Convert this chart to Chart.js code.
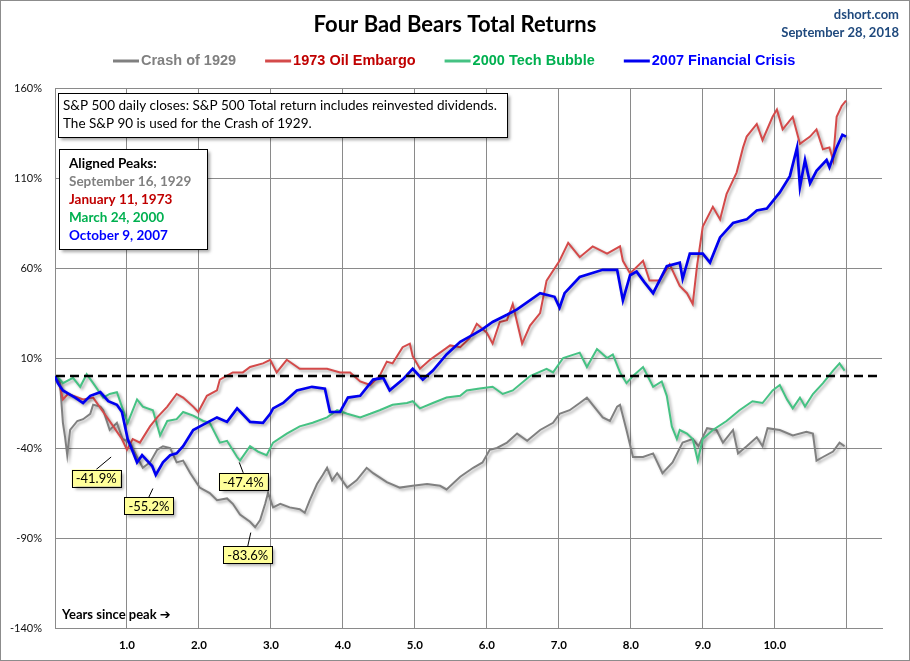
<!DOCTYPE html>
<html>
<head>
<meta charset="utf-8">
<title>Four Bad Bears Total Returns</title>
<script src="https://cdn.jsdelivr.net/npm/chart.js@4.4.1/dist/chart.umd.min.js"></script>
<style>
  html, body { margin: 0; padding: 0; background: #fff; }
  #wrap { width: 910px; height: 661px; }
</style>
</head>
<body>
<div id="wrap"><canvas id="bearsChart" width="910" height="661"></canvas></div>
<script>
// [years since peak, total return %]
const crash1929 = [[0,0],[0.07,-4],[0.11,-26],[0.14,-34],[0.17,-44],[0.21,-30],[0.31,-25],[0.39,-24],[0.49,-21],[0.53,-16],[0.63,-17],[0.67,-19],[0.76,-30],[0.86,-26],[0.94,-35],[1.04,-37],[1.14,-45],[1.22,-51],[1.32,-48],[1.42,-41],[1.5,-39],[1.6,-40],[1.69,-48],[1.78,-47],[1.88,-54],[2.01,-62],[2.15,-65],[2.25,-69],[2.39,-68],[2.47,-71],[2.57,-77],[2.71,-81],[2.78,-84],[2.85,-80],[2.92,-71],[2.96,-65],[3.03,-73],[3.13,-71],[3.26,-73],[3.4,-74],[3.47,-76],[3.54,-69],[3.64,-60],[3.72,-55],[3.78,-51],[3.85,-58],[3.92,-54],[4.06,-62],[4.19,-58],[4.33,-51],[4.42,-54],[4.61,-59],[4.79,-62],[4.97,-61],[5.17,-60],[5.35,-61],[5.44,-63],[5.63,-56],[5.81,-51],[5.94,-48],[6.04,-41],[6.14,-40],[6.28,-37],[6.42,-32],[6.56,-36],[6.74,-30],[6.92,-26],[7.01,-21],[7.15,-19],[7.29,-15],[7.39,-12],[7.47,-16],[7.61,-23],[7.71,-25],[7.81,-17],[7.85,-16],[7.94,-30],[8.03,-45],[8.17,-45],[8.31,-43],[8.44,-54],[8.58,-48],[8.72,-37],[8.86,-35],[8.94,-39],[9.06,-29],[9.19,-30],[9.28,-37],[9.42,-30],[9.49,-43],[9.61,-39],[9.75,-34],[9.83,-39],[9.9,-29],[10.07,-30],[10.25,-33],[10.44,-31],[10.53,-32],[10.58,-47],[10.67,-45],[10.81,-42],[10.9,-37],[10.97,-39]];

const oilEmbargo1973 = [[0,0],[0.07,-6],[0.11,-13],[0.18,-10],[0.25,-11],[0.39,-13],[0.53,-12],[0.67,-20],[0.81,-28],[0.93,-35],[1.0,-41],[1.08,-35],[1.18,-37],[1.32,-28],[1.42,-23],[1.56,-17],[1.69,-10],[1.78,-12],[1.92,-17],[1.99,-20],[2.11,-11],[2.25,-8],[2.29,-2],[2.47,2],[2.61,2],[2.71,5],[2.89,7],[2.99,9],[3.08,2],[3.22,9],[3.4,4],[3.58,4],[3.78,4],[3.96,2],[4.1,2],[4.24,-3],[4.38,-5],[4.51,0],[4.61,8],[4.69,7],[4.83,16],[4.93,18],[4.97,11],[5.07,4],[5.21,9],[5.35,13],[5.49,17],[5.63,16],[5.76,21],[5.86,29],[6.0,24],[6.08,18],[6.18,30],[6.28,31],[6.36,40],[6.49,18],[6.6,28],[6.74,35],[6.83,53],[7.01,64],[7.13,74],[7.29,66],[7.47,72],[7.67,68],[7.85,72],[7.89,64],[7.99,57],[8.17,64],[8.26,53],[8.4,53],[8.54,62],[8.68,50],[8.78,46],[8.86,40],[8.92,61],[9.0,83],[9.14,94],[9.24,87],[9.33,101],[9.47,113],[9.56,127],[9.61,133],[9.75,140],[9.83,131],[9.97,144],[10.03,148],[10.11,137],[10.25,144],[10.35,129],[10.49,133],[10.58,137],[10.67,126],[10.76,127],[10.81,120],[10.86,144],[10.93,150],[10.99,153]];

const techBubble2000 = [[0,0],[0.07,-2],[0.11,-4],[0.25,-1],[0.35,-6],[0.44,1],[0.53,-4],[0.67,-12],[0.76,-10],[0.86,-9],[0.93,-17],[1.01,-26],[1.14,-13],[1.22,-17],[1.36,-19],[1.46,-33],[1.56,-25],[1.69,-24],[1.78,-20],[1.92,-22],[2.06,-25],[2.15,-26],[2.29,-37],[2.39,-36],[2.53,-45],[2.57,-47],[2.71,-39],[2.82,-42],[2.94,-44],[3.03,-37],[3.22,-32],[3.4,-28],[3.58,-26],[3.78,-23],[3.92,-19],[4.06,-21],[4.24,-23],[4.38,-21],[4.51,-19],[4.69,-16],[4.89,-15],[4.97,-14],[5.07,-18],[5.25,-15],[5.44,-12],[5.63,-11],[5.72,-8],[5.9,-7],[6.08,-6],[6.22,-10],[6.36,-8],[6.6,0],[6.83,4],[6.92,2],[7.06,10],[7.29,13],[7.39,5],[7.53,15],[7.67,10],[7.75,12],[7.85,2],[7.94,-4],[8.03,0],[8.17,5],[8.31,-6],[8.43,-3],[8.5,-11],[8.57,-28],[8.64,-35],[8.68,-30],[8.78,-32],[8.86,-35],[8.93,-47],[9.0,-35],[9.14,-30],[9.33,-25],[9.51,-19],[9.69,-14],[9.83,-15],[9.97,-8],[10.07,-5],[10.17,-13],[10.25,-18],[10.35,-12],[10.42,-17],[10.53,-10],[10.67,-4],[10.81,3],[10.9,7],[10.97,3]];

const financialCrisis2007 = [[0,0],[0.04,-4],[0.11,-8],[0.28,-12],[0.39,-15],[0.49,-11],[0.63,-9],[0.74,-14],[0.86,-16],[0.93,-20],[1.01,-35],[1.08,-42],[1.14,-48],[1.21,-44],[1.28,-47],[1.35,-50],[1.4,-55],[1.5,-48],[1.6,-44],[1.69,-43],[1.78,-39],[1.92,-30],[2.06,-27],[2.25,-23],[2.39,-25.5],[2.53,-18],[2.71,-25.5],[2.89,-26],[2.99,-21],[3.03,-18],[3.17,-15],[3.36,-8],[3.57,-6],[3.75,-7],[3.82,-20],[3.96,-20],[4.07,-12],[4.24,-11],[4.42,-2],[4.56,-1],[4.65,-8],[4.83,-2],[4.97,4],[5.11,-2],[5.25,3],[5.44,12],[5.63,19],[5.81,23],[5.94,26],[6.08,30],[6.28,34],[6.42,37],[6.74,46],[6.94,44],[7.01,38],[7.08,46],[7.29,55],[7.61,59],[7.81,59],[7.89,42],[7.99,56],[8.08,58],[8.19,52],[8.31,46],[8.5,61],[8.68,63],[8.72,54],[8.82,68],[9.0,68],[9.1,63],[9.24,77],[9.42,85],[9.61,87],[9.75,92],[9.89,93],[10.07,102],[10.21,111],[10.31,127],[10.35,105],[10.42,120],[10.49,107],[10.58,114],[10.72,120],[10.76,116],[10.86,127],[10.94,134],[10.99,133]];

const seriesNames = ['Crash of 1929', '1973 Oil Embargo', '2000 Tech Bubble', '2007 Financial Crisis'];
const seriesData = [crash1929, oilEmbargo1973, techBubble2000, financialCrisis2007];
const lineColors = ['#808080', '#D44A4A', '#45C283', '#0000F0'];
const textColors = ['#808080', '#C00000', '#00B050', '#0000FF'];
const lineWidths = [2, 2, 2, 2.7];
const drawOrder = [3, 1, 2, 0];

const yTicks = [-140, -90, -40, 10, 60, 110, 160];
const xTicks = [0, 1, 2, 3, 4, 5, 6, 7, 8, 9, 10, 11];
const peakDates = ['September 16, 1929', 'January 11, 1973', 'March 24, 2000', 'October 9, 2007'];

// trough call-outs: label, point on the line (years, %), box offset in px
const troughNotes = [
    { text: '-41.9%', x: 0.78, y: -45, dx: -15, dy: 21 },
    { text: '-55.2%', x: 1.36, y: -62.5, dx: -4, dy: 17 },
    { text: '-47.4%', x: 2.56, y: -48, dx: 4, dy: 19 },
    { text: '-83.6%', x: 2.72, y: -87, dx: -3, dy: 22 }
];

const FONT = '"Lato", "DejaVu Sans", sans-serif';

function shadowOn(ctx, off, blur, col) {
    ctx.shadowColor = col;
    ctx.shadowBlur = blur;
    ctx.shadowOffsetX = off;
    ctx.shadowOffsetY = off;
}

const decor = {
    id: 'decor',
    beforeDraw(chart) {
        const ctx = chart.ctx;
        ctx.save();
        ctx.fillStyle = '#fff';
        ctx.fillRect(0, 0, chart.width, chart.height);
        ctx.restore();
    },
    beforeDatasetDraw(chart) {
        const ctx = chart.ctx;
        ctx.save();
        shadowOn(ctx, 2, 3, 'rgba(0,0,0,0.33)');
    },
    afterDatasetDraw(chart) {
        chart.ctx.restore();
    },
    afterDatasetsDraw(chart) {
        // dashed break-even line
        const ctx = chart.ctx;
        const area = chart.chartArea;
        const y0 = Math.round(chart.scales.y.getPixelForValue(0));
        ctx.save();
        ctx.strokeStyle = '#000';
        ctx.lineWidth = 2.5;
        ctx.setLineDash([9, 5]);
        ctx.beginPath();
        ctx.moveTo(area.left + 1, y0);
        ctx.lineTo(area.right, y0);
        ctx.stroke();
        ctx.restore();
    },
    afterDraw(chart) {
        const ctx = chart.ctx;
        const xs = chart.scales.x, ys = chart.scales.y;
        ctx.save();

        // title and source
        ctx.fillStyle = '#000';
        ctx.textAlign = 'center';
        ctx.textBaseline = 'middle';
        ctx.font = 'bold 22px ' + FONT;
        ctx.fillText('Four Bad Bears Total Returns', 455, 25);
        ctx.textAlign = 'right';
        ctx.fillStyle = '#1F497D';
        ctx.font = 'bold 13px ' + FONT;
        ctx.fillText('dshort.com', 899, 15);
        ctx.fillText('September 28, 2018', 899, 33);

        // legend
        ctx.textAlign = 'left';
        ctx.font = 'bold 14.5px "Liberation Sans", Arial, sans-serif';
        let lx = 113;
        seriesNames.forEach((name, i) => {
            ctx.strokeStyle = lineColors[i];
            ctx.lineWidth = 3;
            ctx.beginPath();
            ctx.moveTo(lx, 61);
            ctx.lineTo(lx + 26, 61);
            ctx.stroke();
            ctx.fillStyle = textColors[i];
            ctx.fillText(name, lx + 28, 61);
            lx += 28 + ctx.measureText(name).width + 29;
        });

        // note boxes
        const box = (x, y, w, h) => {
            ctx.save();
            shadowOn(ctx, 3, 3, 'rgba(0,0,0,0.35)');
            ctx.fillStyle = '#fff';
            ctx.fillRect(x, y, w, h);
            ctx.restore();
            ctx.strokeStyle = '#000';
            ctx.lineWidth = 1;
            ctx.strokeRect(x + 0.5, y + 0.5, w, h);
        };
        box(58, 93, 449, 44);
        ctx.fillStyle = '#000';
        ctx.font = '13.5px ' + FONT;
        ctx.fillText('S&P 500 daily closes: S&P 500 Total return includes reinvested dividends.', 63, 106);
        ctx.fillText('The S&P 90 is used for the Crash of 1929.', 63, 124);

        box(59, 149, 148, 100);
        ctx.font = 'bold 13.5px ' + FONT;
        ctx.fillStyle = '#000';
        ctx.fillText('Aligned Peaks:', 69, 164);
        peakDates.forEach((d, i) => {
            ctx.fillStyle = textColors[i];
            ctx.fillText(d, 69, 182 + i * 18);
        });

        // trough call-outs
        ctx.font = '13px ' + FONT;
        troughNotes.forEach(n => {
            const px = xs.getPixelForValue(n.x);
            const py = ys.getPixelForValue(n.y);
            const w = ctx.measureText(n.text).width + 8;
            const h = 17;
            const cx = px + n.dx, cy = py + n.dy;
            ctx.strokeStyle = '#000';
            ctx.lineWidth = 1;
            ctx.beginPath();
            ctx.moveTo(cx, cy - h / 2);
            ctx.lineTo(px, py);
            ctx.stroke();
            ctx.save();
            shadowOn(ctx, 3, 3, 'rgba(0,0,0,0.35)');
            ctx.fillStyle = '#FFFF99';
            ctx.fillRect(cx - w / 2, cy - h / 2, w, h);
            ctx.restore();
            ctx.strokeRect(Math.round(cx - w / 2) + 0.5, Math.round(cy - h / 2) + 0.5, Math.round(w), h);
            ctx.fillStyle = '#000';
            ctx.textAlign = 'center';
            ctx.fillText(n.text, cx, cy + 1);
        });

        // axis caption
        ctx.textAlign = 'left';
        ctx.fillStyle = '#000';
        ctx.font = 'bold 13px ' + FONT;
        ctx.fillText('Years since peak \u2794', 62, 615);

        // frame
        ctx.strokeStyle = '#8c8c8c';
        ctx.lineWidth = 1;
        ctx.strokeRect(0.5, 0.5, chart.width - 1, chart.height - 1);
        ctx.restore();
    }
};

const ctx = document.getElementById('bearsChart').getContext('2d');
const bearsChart = new Chart(ctx, {
    type: 'line',
    data: {
        datasets: seriesData.map((rows, i) => ({
            label: seriesNames[i],
            data: rows.map(r => ({ x: r[0], y: r[1] })),
            borderColor: lineColors[i],
            borderWidth: lineWidths[i],
            pointRadius: 0,
            tension: 0,
            fill: false,
            order: drawOrder[i]
        }))
    },
    options: {
        responsive: false,
        animation: false,
        devicePixelRatio: 1,
        events: [],
        layout: { padding: { top: 88, right: 28, left: 0, bottom: 0 } },
        scales: {
            x: {
                type: 'linear',
                min: 0,
                max: 11.49,
                afterBuildTicks: scale => { scale.ticks = xTicks.map(v => ({ value: v })); },
                afterFit: scale => { scale.height = 33; },
                grid: { color: '#8a8a8a', lineWidth: 1, drawTicks: false },
                border: { color: '#8a8a8a', width: 1 },
                ticks: {
                    padding: 10,
                    autoSkip: false,
                    maxRotation: 0,
                    color: '#000',
                    font: { family: FONT, size: 11.5, weight: 'bold' },
                    callback: v => (v >= 1 && v <= 10) ? v.toFixed(1) : ''
                }
            },
            y: {
                min: -140,
                max: 160,
                afterBuildTicks: scale => { scale.ticks = yTicks.map(v => ({ value: v })); },
                afterFit: scale => { scale.width = 55; },
                grid: { color: '#8a8a8a', lineWidth: 1, drawTicks: false },
                border: { color: '#8a8a8a', width: 1 },
                ticks: {
                    padding: 13,
                    color: '#111',
                    font: { family: FONT, size: 11 },
                    callback: v => v + '%'
                }
            }
        },
        plugins: {
            legend: { display: false },
            tooltip: { enabled: false }
        }
    },
    plugins: [decor]
});
</script>
</body>
</html>
